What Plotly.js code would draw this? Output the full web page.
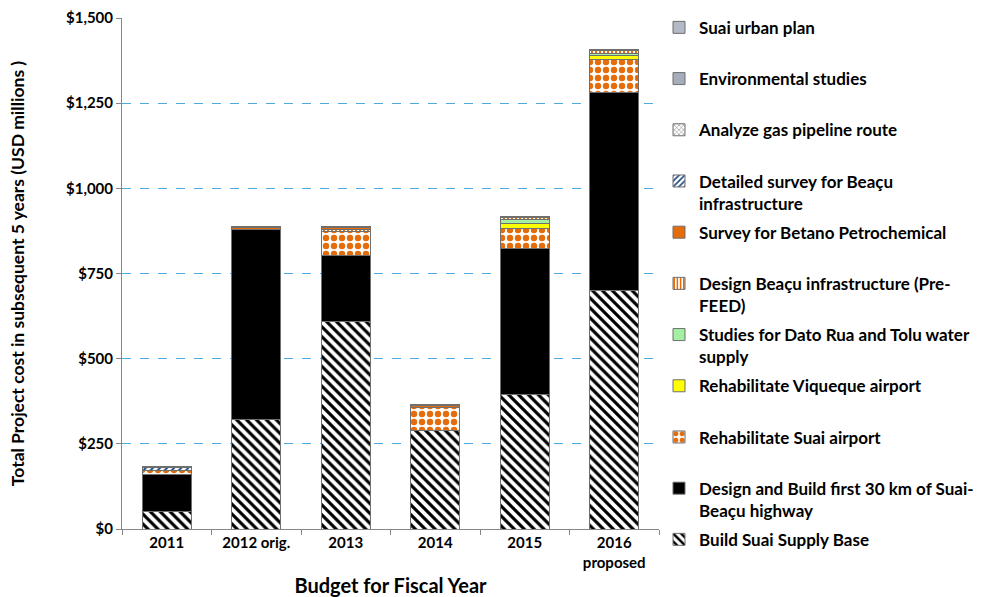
<!DOCTYPE html>
<html>
<head>
<meta charset="utf-8">
<script src="https://cdn.plot.ly/plotly-3.0.1.min.js"></script>
<style>html,body{margin:0;padding:0;background:#fff;}#chart{width:989px;height:597px;}</style>
</head>
<body>
<div id="chart"></div>
<script>
var categories = ["2011", "2012 orig.", "2013", "2014", "2015", "2016<br>proposed"];
var supplyBase     = [50, 320, 608, 288, 396, 700];
var highway        = [111, 560, 196, null, 426, 580];
var suaiAirport    = [11, null, 68, 70, 61, 97];
var viqueque       = [null, null, null, null, 15, 14];
var waterSupply    = [null, null, null, null, 10, 6];
var preFeed        = [null, null, 8, null, 5, 7];
var betano         = [null, 4, 5, 4, null, null];
var detailedSurvey = [8, null, null, null, null, null];
var gasPipeline    = [null, null, null, null, null, 2];
var environmental  = [2, 2, 2, 2, 2, 2];
var urbanPlan      = [1, 1, 1, 1, 1, 1];

var seriesNames = [
  "Build Suai Supply Base<br> ",
  "Design and Build first 30 km of Suai-<br>Beaçu highway",
  "Rehabilitate Suai airport<br> ",
  "Rehabilitate Viqueque airport<br> ",
  "Studies for Dato Rua and Tolu water<br>supply",
  "Design Beaçu infrastructure (Pre-<br>FEED)",
  "Survey for Betano Petrochemical<br> ",
  "Detailed survey for Beaçu<br>infrastructure",
  "Analyze gas pipeline route<br> ",
  "Environmental studies<br> ",
  "Suai urban plan<br> "
];
var seriesValues = [supplyBase, highway, suaiAirport, viqueque, waterSupply, preFeed, betano, detailedSurvey, gasPipeline, environmental, urbanPlan];
var seriesStyles = [
  {color: "#FFFFFF", pattern: {shape: "\\", fgcolor: "#000000", bgcolor: "#FFFFFF", size: 7, solidity: 0.45}},
  {color: "#000000"},
  {color: "#FFFFFF", pattern: {shape: ".", fgcolor: "#E46C0A", bgcolor: "#FFFFFF", size: 8, solidity: 0.5}},
  {color: "#FFFF00"},
  {color: "#A3F0A3"},
  {color: "#FFFFFF", pattern: {shape: "|", fgcolor: "#E46C0A", bgcolor: "#FFFFFF", size: 4, solidity: 0.5}},
  {color: "#E46C0A"},
  {color: "#FFFFFF", pattern: {shape: "/", fgcolor: "#1F497D", bgcolor: "#FFFFFF", size: 5, solidity: 0.4}},
  {color: "#FFFFFF", pattern: {shape: "x", fgcolor: "#7F7F7F", bgcolor: "#FFFFFF", size: 4, solidity: 0.3}},
  {color: "#A5ACBA"},
  {color: "#B3B9C5"}
];

var traces = seriesValues.map(function (vals, i) {
  var m = {color: seriesStyles[i].color, line: {color: "#6F6F6F", width: 1}};
  if (seriesStyles[i].pattern) m.pattern = seriesStyles[i].pattern;
  return {
    type: "bar",
    x: categories,
    y: vals,
    name: seriesNames[i],
    legendgroup: "g" + i,
    legendrank: 1000 - i * 10,
    marker: m,
    hoverinfo: "skip"
  };
});

var fontFam = "Lato, 'Open Sans', sans-serif";
var layout = {
  width: 989, height: 597,
  barmode: "stack",
  bargap: 0.45,
  paper_bgcolor: "#FFFFFF", plot_bgcolor: "#FFFFFF",
  margin: {l: 122, r: 330, t: 18, b: 68, autoexpand: false},
  font: {family: fontFam, size: 14, color: "#000000", weight: "bold"},
  xaxis: {
    type: "category",
    title: {text: "Budget for Fiscal Year", font: {size: 20, weight: "bold"}, standoff: 9},
    tickfont: {size: 15, weight: "bold"},
    showline: true, linecolor: "#868686", linewidth: 1,
    ticks: "outside", tickson: "boundaries", ticklen: 5, tickcolor: "#868686",
    showgrid: false
  },
  yaxis: {
    title: {text: "Total Project cost in subsequent 5 years (USD millions )", font: {size: 17.5, weight: "bold"}, standoff: 36},
    range: [0, 1500], dtick: 250, tickprefix: "$", tickformat: ",",
    tickfont: {size: 15, weight: "bold"},
    showline: true, linecolor: "#868686", linewidth: 1,
    ticks: "outside", ticklen: 5, tickcolor: "#868686",
    gridcolor: "#4FA8DE", griddash: "dash", gridwidth: 1,
    zeroline: false
  },
  legend: {
    traceorder: "grouped",
    x: 1.0, xanchor: "left", y: 1.016, yanchor: "top",
    valign: "top",
    maxheight: 1,
    font: {size: 17, weight: "bold", family: fontFam},
    tracegroupgap: 4,
    itemwidth: 30,
    bgcolor: "rgba(0,0,0,0)"
  },
  showlegend: true
};

Plotly.newPlot("chart", traces, layout, {displayModeBar: false, staticPlot: true});
</script>
</body>
</html>
